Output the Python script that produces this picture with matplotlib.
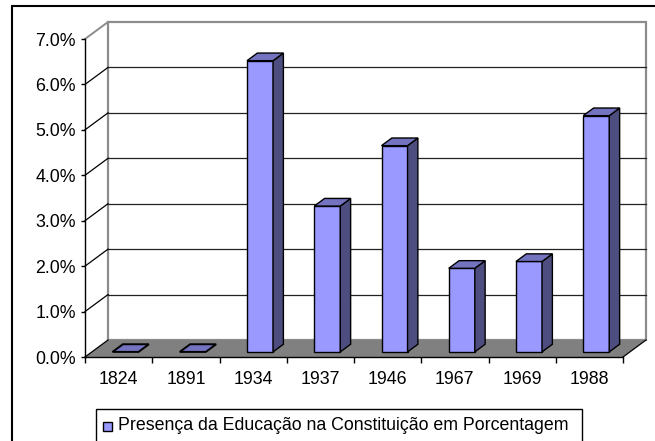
import matplotlib
matplotlib.use("Agg")
import matplotlib.pyplot as plt
from matplotlib.patches import Polygon, Rectangle
import numpy as np

# data
years = ["1824", "1891", "1934", "1937", "1946", "1967", "1969", "1988"]
values = [0.0, 0.0, 6.41, 3.21, 4.54, 1.84, 1.99, 5.20]   # percent
yticks = [0, 1, 2, 3, 4, 5, 6, 7]
legend_label = "Presença da Educação na Constituição em Porcentagem"

FRONT = "#9999FF"
SIDE = "#4D4D80"
TOP = "#7373BF"
FLOOR = "#808080"
WALL_EDGE = "#8C8C8C"
FS = 12.8

plt.rcParams["font.family"] = ["Liberation Sans", "DejaVu Sans"]

W, H = 655, 441
fig = plt.figure(figsize=(W / 100, H / 100), dpi=100)
ax = fig.add_axes([85 / W, 1 - 357 / H, 538 / W, 318 / H])
n = len(years)
ymax = 7
ax.set_xlim(0, n)
ax.set_ylim(0, ymax)

# depth of the 3d box in data units
DX = 23 / (538 / n)
DY = 17 / (318 / ymax)
BW = 0.387          # bar width (categories)
F0, F1 = 0.30, 0.75 # bar front / back depth fraction


def P(x, y, d):
    return (x + d * DX, y + d * DY)


def poly(pts, **kw):
    p = Polygon(pts, closed=True, clip_on=False, **kw)
    ax.add_patch(p)
    return p


# back wall
poly([P(0, 0, 1), P(n, 0, 1), P(n, ymax, 1), P(0, ymax, 1)],
     facecolor="white", edgecolor=WALL_EDGE, lw=1.6, zorder=1)
# left wall top edge
ax.plot([0, DX], [ymax, ymax + DY], color=WALL_EDGE, lw=1.4, clip_on=False, zorder=1)

# gridlines on back wall and left wall
for v in yticks[1:-1]:
    ax.plot([DX, n + DX], [v + DY, v + DY], color="#222222", lw=0.9, clip_on=False, zorder=2)
    ax.plot([0, DX], [v, v + DY], color="black", lw=0.9, clip_on=False, zorder=2)

# floor
poly([P(0, 0, 0), P(n, 0, 0), P(n, 0, 1), P(0, 0, 1)],
     facecolor=FLOOR, edgecolor="none", zorder=2)
ax.plot([0, DX], [0, DY], color="black", lw=0.9, clip_on=False, zorder=3)
ax.plot([n, n + DX], [0, DY], color="black", lw=0.9, clip_on=False, zorder=3)

# bars
for i, v in enumerate(values):
    x0 = i + 0.5 - BW / 2
    x1 = i + 0.5 + BW / 2
    kw = dict(edgecolor="black", lw=1.0, joinstyle="miter", zorder=4)
    if v > 0:
        poly([P(x0, 0, F0), P(x1, 0, F0), P(x1, v, F0), P(x0, v, F0)], facecolor=FRONT, **kw)
        poly([P(x1, 0, F0), P(x1, 0, F1), P(x1, v, F1), P(x1, v, F0)], facecolor=SIDE, **kw)
    poly([P(x0, v, F0), P(x1, v, F0), P(x1, v, F1), P(x0, v, F1)],
         facecolor=TOP, **(kw | {"lw": 1.4 if v == 0 else 1.0}))

# axes
for s in ["top", "right"]:
    ax.spines[s].set_visible(False)
for s in ["left", "bottom"]:
    ax.spines[s].set_color("black")
    ax.spines[s].set_linewidth(1.0)
    ax.spines[s].set_zorder(5)
ax.patch.set_visible(False)

ax.set_yticks(yticks)
ax.set_yticklabels([f"{v:.1f}%" for v in yticks])
ax.tick_params(axis="y", length=3, width=1.0, pad=3.5, labelsize=FS)

ax.set_xticks(np.arange(n) + 0.5)
ax.set_xticklabels(years)
ax.set_xticks(np.arange(n + 1), minor=True)
ax.tick_params(axis="x", which="major", length=0, pad=10, labelsize=FS)
ax.tick_params(axis="x", which="minor", length=4, width=1.0)

# outer frame (runs off the right and bottom of the image)
fig.patches.append(Rectangle((12 / W, -0.05), 1.1, 1 - 6 / H + 0.05,
                             transform=fig.transFigure, fill=False,
                             edgecolor="black", lw=1.5, clip_on=False))

# legend box (bottom edge off the image)
fig.patches.append(Rectangle((96 / W, -0.05), 486 / W, 1 - 409 / H + 0.05,
                             transform=fig.transFigure, fill=False,
                             edgecolor="black", lw=1.0, clip_on=False))
fig.patches.append(Rectangle((103 / W, 1 - 431 / H), 9 / W, 9 / H,
                             transform=fig.transFigure, facecolor=FRONT,
                             edgecolor="black", lw=1.0))
fig.text(118 / W, 1 - 426 / H, legend_label, fontsize=FS, va="center", ha="left")

fig.savefig("out.png", dpi=100)
